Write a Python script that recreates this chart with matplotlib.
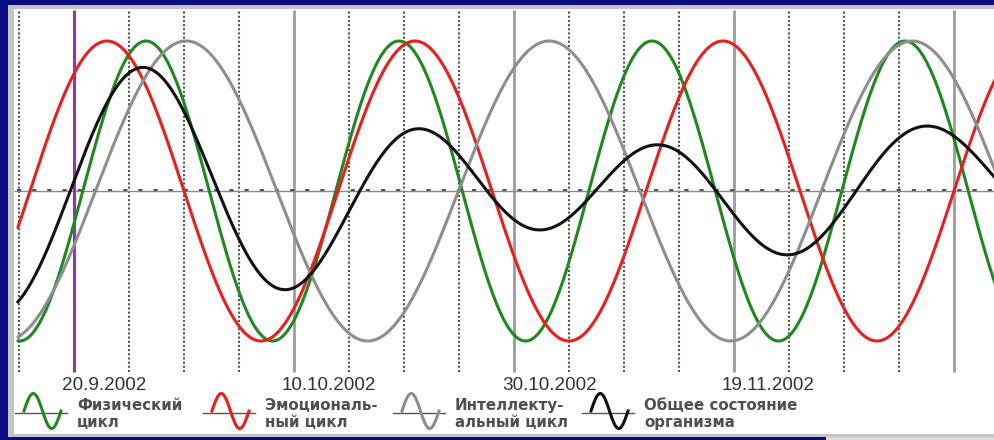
import numpy as np
import matplotlib
matplotlib.use("Agg")
import matplotlib.pyplot as plt
from matplotlib.patches import Rectangle

# ---------------- data ----------------
cycle_line1 = ["Физический", "Эмоциональ-", "Интеллекту-", "Общее состояние"]
cycle_line2 = ["цикл", "ный цикл", "альный цикл", "организма"]
cycle_periods = [23, 28, 33]            # days
cycle_peak_day = [6.55, 3.0, 10.2]      # day (after 20.9.2002) of a visible peak
cycle_colors = ["#1e8a1e", "#f01c1c", "#8e8e8e"]
total_color = "#111111"
date_labels = ["20.9.2002", "10.10.2002", "30.10.2002", "19.11.2002"]
date_days = [0, 20, 40, 60]
today_day = 0
grid_step = 5
major_step = 20
day_first, day_last = -5.1, 84.5

# ---------------- layout ----------------
W, H = 995, 440
X0PX, DAYPX = 74, 11.0          # pixel of day 0, pixels per day
Y0PX, AMPPX = 191, 150.0        # pixel of zero line, pixels per unit


def F(x, y):
    return x / W, 1 - y / H


def dx(px):
    return (px - X0PX) / DAYPX


def vy(py):
    return (Y0PX - py) / AMPPX


fig = plt.figure(figsize=(W / 100, H / 100), dpi=100, facecolor="#0b0b82")
ax = fig.add_axes([0, 0, 1, 1])
ax.set_xlim(dx(0), dx(W))
ax.set_ylim(vy(H), vy(0))
ax.axis("off")
ax.patch.set_visible(False)
tf = fig.transFigure

# background panels
ax.add_patch(Rectangle(F(8, 437), 987 / W, 432 / H, transform=tf,
                       facecolor="#c4c4c4", edgecolor="none", zorder=0))
ax.add_patch(Rectangle(F(14, 434), 981 / W, 425 / H, transform=tf,
                       facecolor="white", edgecolor="none", zorder=0.1))
ax.add_patch(Rectangle(F(826, 440), 169 / W, 3 / H, transform=tf,
                       facecolor="#dcdcdc", edgecolor="none", zorder=0.1))

# vertical grid
vtop, vbot = vy(10), vy(372)
grid_days = np.arange(-5, 85, grid_step)
for d in grid_days:
    if d == today_day:
        continue
    if d % major_step == 0:
        ax.vlines(d, vbot, vtop, colors="#9c9c9c", lw=2.0, zorder=1)
    else:
        ax.vlines(d, vbot, vtop, colors="#555555", lw=1.5,
                  linestyles=(0, (1, 1)), zorder=1)

# horizontal zero axis with day ticks
ax.hlines(0, dx(14), dx(W), colors="#8a8a8a", lw=1.0, zorder=1)
ax.hlines(vy(190.2), dx(14) + 0.3, dx(W), colors="#333333", lw=1.2,
          linestyles=(0, (2.5, 6.6)), zorder=1)

# today marker
ax.vlines(today_day, vbot, vtop, colors="#9433b4", lw=2.2, zorder=2)

# curves
t = np.linspace(day_first, day_last, 3000)
vals = []
for P, pk, c in zip(cycle_periods, cycle_peak_day, cycle_colors):
    v = np.cos(2 * np.pi * (t - pk) / P)
    vals.append(v)
    ax.plot(t, v, color=c, lw=2.2, zorder=3, solid_capstyle="round")
total = np.mean(vals, axis=0)
ax.plot(t, total, color=total_color, lw=2.2, zorder=3)

# date labels
for d, lab in zip(date_days, date_labels):
    ax.text(d - 12 / DAYPX, vy(390), lab, ha="left", va="baseline",
            fontsize=13.6, color="#333333", family="Liberation Sans", zorder=4)

# legend
icon_x = [15, 203, 393, 582]
icon_cols = cycle_colors + [total_color]
for i, x0 in enumerate(icon_x):
    bx, by = F(x0, 412.5)
    bx2, _ = F(x0 + 52, 412.5)
    ax.plot([bx, bx2], [by, by], transform=tf, color="#555555", lw=1.0, zorder=4)
    xs = np.linspace(x0 + 9, x0 + 46, 100)
    ys = 411 - 17.5 * np.sin(2 * np.pi * (xs - (x0 + 9)) / 37)
    ax.plot(xs / W, 1 - ys / H, transform=tf, color=icon_cols[i], lw=2.2, zorder=5)
    tx, ty1 = F(x0 + 62, 410)
    _, ty2 = F(x0 + 62, 427)
    ax.text(tx, ty1, cycle_line1[i], transform=tf, ha="left", va="baseline",
            fontsize=10.8, color="#4f4f4f", family="DejaVu Sans", weight="semibold", zorder=5)
    ax.text(tx, ty2, cycle_line2[i], transform=tf, ha="left", va="baseline",
            fontsize=10.8, color="#4f4f4f", family="DejaVu Sans", weight="semibold", zorder=5)

fig.savefig("out.png", dpi=100, facecolor=fig.get_facecolor())
